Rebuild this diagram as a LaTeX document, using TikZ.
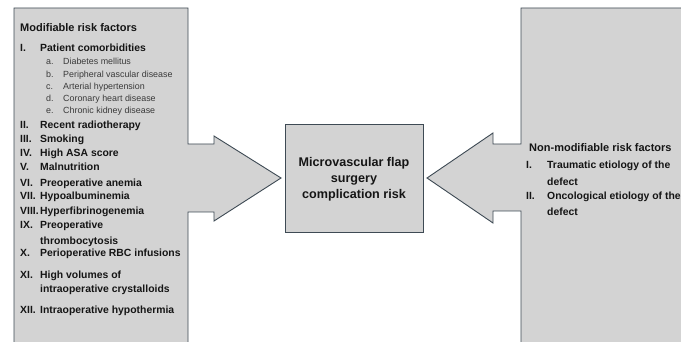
\documentclass[tikz,border=0pt]{standalone}
\usepackage{fontspec}
\setmainfont{Liberation Sans}
\definecolor{boxfill}{HTML}{D3D3D3}
\definecolor{boxline}{HTML}{3E4A54}
\definecolor{subtext}{HTML}{3A3A3A}
\definecolor{maintext}{HTML}{151515}
\begin{document}
\begin{tikzpicture}[x=1pt,y=-1pt,
  shapebox/.style={fill=boxfill,draw=boxline,line width=0.9pt,line join=miter},
  title/.style={anchor=base west,inner sep=0pt,font=\fontsize{11}{13}\selectfont\bfseries,text=maintext},
  num/.style={anchor=base west,inner sep=0pt,font=\fontsize{10.4}{12}\selectfont\bfseries,text=maintext},
  item/.style={anchor=base west,inner sep=0pt,font=\fontsize{10.4}{12}\selectfont\bfseries,text=maintext},
  subnum/.style={anchor=base west,inner sep=0pt,font=\fontsize{8.9}{10}\selectfont,text=subtext},
  subitem/.style={anchor=base west,inner sep=0pt,font=\fontsize{8.9}{10}\selectfont,text=subtext},
  centerbox/.style={shapebox,minimum width=138pt,minimum height=108pt,inner sep=0pt}]
\useasboundingbox (0,0) rectangle (681,342);
\fill[white] (0,0) rectangle (681,342);
\clip (0,0) rectangle (681,342);

% centre box
\node[centerbox] (risk) at (354,178) {};
\node[anchor=base,inner sep=0pt,font=\fontsize{12.6}{15}\selectfont\bfseries,text=maintext] (r1) at (354,167) {Microvascular flap};
\node[anchor=base,inner sep=0pt,font=\fontsize{12.6}{15}\selectfont\bfseries,text=maintext] (r2) at (354,183) {surgery};
\node[anchor=base,inner sep=0pt,font=\fontsize{12.6}{15}\selectfont\bfseries,text=maintext] (r3) at (354,198.5) {complication risk};

% left callout (modifiable)
\coordinate (ltip) at (risk.west);
\draw[shapebox] (14,8) -- (188,8) -- (188,144) -- (214,144) -- (214,136)
  -- (ltip -| 281,0) -- (214,221) -- (214,212) -- (188,212) -- (188,360) -- (14,360) -- cycle;

% right callout (non-modifiable)
\coordinate (rtip) at (risk.east);
\draw[shapebox] (521,8) -- (700,8) -- (700,360) -- (521,360) -- (521,211) -- (493,211)
  -- (493,223) -- (rtip -| 427,0) -- (493,133) -- (493,144) -- (521,144) -- cycle;

% left text
\node[title] (lt) at (20,32) {Modifiable risk factors};
\node[num] (n1) at (20,52) {I.};      \node[item] (i1) at (40,52) {Patient comorbidities};
\node[subnum] (sa) at (46,65) {a.};   \node[subitem] (ta) at (63,65) {Diabetes mellitus};
\node[subnum] (sb) at (46,77.5) {b.}; \node[subitem] (tb) at (63,77.5) {Peripheral vascular disease};
\node[subnum] (sc) at (46,90) {c.};   \node[subitem] (tc) at (63,90) {Arterial hypertension};
\node[subnum] (sd) at (46,102) {d.};  \node[subitem] (td) at (63,102) {Coronary heart disease};
\node[subnum] (se) at (46,114) {e.};  \node[subitem] (te) at (63,114) {Chronic kidney disease};
\node[num] (n2) at (20,129) {II.};    \node[item] (i2) at (40,129) {Recent radiotherapy};
\node[num] (n3) at (20,143) {III.};   \node[item] (i3) at (40,143) {Smoking};
\node[num] (n4) at (20,157) {IV.};    \node[item] (i4) at (40,157) {High ASA score};
\node[num] (n5) at (20,171) {V.};     \node[item] (i5) at (40,171) {Malnutrition};
\node[num] (n6) at (20,187) {VI.};    \node[item] (i6) at (40,187) {Preoperative anemia};
\node[num] (n7) at (20,200) {VII.};   \node[item] (i7) at (40,200) {Hypoalbuminemia};
\node[num] (n8) at (20,215) {VIII.};  \node[item] (i8) at (40,215) {Hyperfibrinogenemia};
\node[num] (n9) at (20,229) {IX.};    \node[item] (i9) at (40,229) {Preoperative};
                                      \node[item] (i9b) at (40,244) {thrombocytosis};
\node[num] (n10) at (20,257) {X.};    \node[item] (i10) at (40,257) {Perioperative RBC infusions};
\node[num] (n11) at (20,279) {XI.};   \node[item] (i11) at (40,279) {High volumes of};
                                      \node[item] (i11b) at (40,293) {intraoperative crystalloids};
\node[num] (n12) at (20,313) {XII.};  \node[item] (i12) at (40,313) {Intraoperative hypothermia};

% right text
\node[title] (rt) at (529,152) {Non-modifiable risk factors};
\node[num] (m1) at (526,169) {I.};    \node[item] (j1) at (547,169) {Traumatic etiology of the};
                                      \node[item] (j1b) at (547,186) {defect};
\node[num] (m2) at (526,200) {II.};   \node[item] (j2) at (547,200) {Oncological etiology of the};
                                      \node[item] (j2b) at (547,216) {defect};
\end{tikzpicture}
\end{document}
